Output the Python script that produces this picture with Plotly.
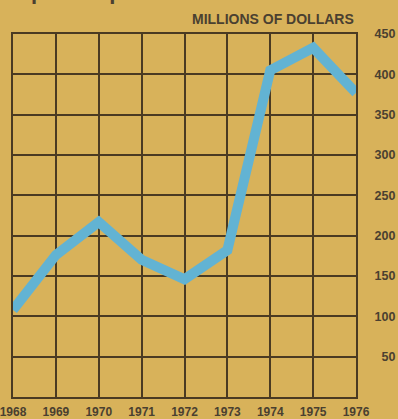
import plotly.graph_objects as go

years = [1968, 1969, 1970, 1971, 1972, 1973, 1974, 1975, 1976]
values = [108, 176, 217, 170, 146, 182, 405, 433, 377]
y_ticks = [50, 100, 150, 200, 250, 300, 350, 400, 450]
y_tick_text = ["\u200750", "100", "150", "200", "250", "300", "350", "400", "450"]

bg = "#d8b25a"
grid = "#4a3a22"
txt = "#4a4030"

fig = go.Figure()
fig.add_trace(go.Scatter(
    x=years, y=values, mode="lines",
    line=dict(color="#62b3d3", width=10),
    hoverinfo="skip",
))

fig.update_layout(
    width=398, height=419,
    margin=dict(l=13, r=42, t=34, b=22, autoexpand=False),
    paper_bgcolor=bg, plot_bgcolor=bg,
    showlegend=False,
    font=dict(family="Liberation Sans, Arial, sans-serif", color=txt),
    xaxis=dict(
        range=[1968, 1976], tickvals=years, ticktext=[str(y) for y in years],
        showgrid=True, gridcolor=grid, gridwidth=2,
        showline=True, linecolor=grid, linewidth=2, mirror=True,
        zeroline=False, ticks="", tickfont=dict(size=12, weight="bold"),
        ticklabelstandoff=3, automargin=False, ticklabeloverflow="allow",
    ),
    yaxis=dict(
        range=[0, 450], tickvals=y_ticks, ticktext=y_tick_text, side="right",
        showgrid=True, gridcolor=grid, gridwidth=2,
        showline=True, linecolor=grid, linewidth=2, mirror=True,
        zeroline=False, ticks="", tickfont=dict(size=12.5, weight="bold"),
        ticklabelstandoff=14, automargin=False, ticklabeloverflow="allow",
    ),
    annotations=[
        dict(text="MILLIONS OF DOLLARS", xref="paper", yref="paper",
             x=1.0, y=1.0, xanchor="right", yanchor="bottom", yshift=5,
             showarrow=False, font=dict(size=14, weight="bold", color=txt)),
        dict(text="Capital Expenditures", xref="paper", yref="paper",
             x=-0.035, y=1.0, xanchor="left", yanchor="bottom", yshift=28,
             showarrow=False, font=dict(size=22, weight="bold", color=txt)),
    ],
)

fig.write_html("out.html")
